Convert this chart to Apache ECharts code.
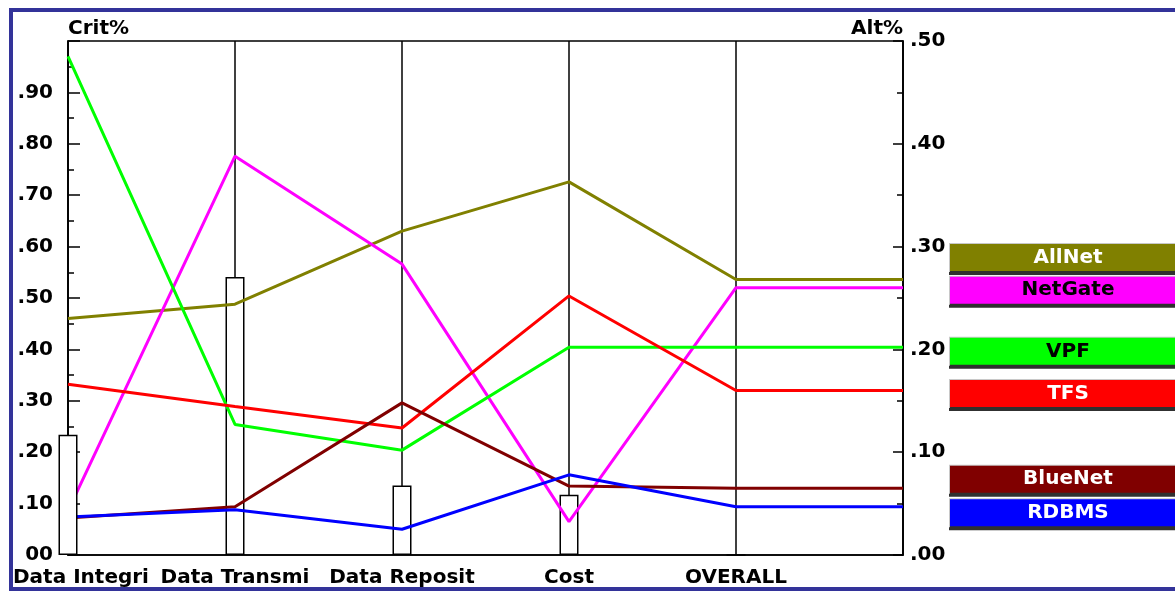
<!DOCTYPE html>
<html>
<head>
<meta charset="utf-8">
<script src="https://cdn.jsdelivr.net/npm/echarts@6/dist/echarts.min.js"></script>
<style>
  html, body { margin: 0; padding: 0; background: #ffffff; overflow: hidden; }
  #frame { position: absolute; left: 9px; top: 8px; width: 1300px; height: 575px;
           border-left: 4px solid #333399; border-top: 4px solid #333399; border-bottom: 4px solid #333399; }
  #chart { position: absolute; left: 0; top: 0; width: 1175px; height: 592px; }
</style>
</head>
<body>
<div id="frame"></div>
<div id="chart"></div>
<script>
// ---- data ----
const categories = ['Data Integri', 'Data Transmi', 'Data Reposit', 'Cost', 'OVERALL'];
const critWeights = [0.234, 0.541, 0.135, 0.117, 0];          // Crit% (left axis), hollow bars
const seriesNames = ['AllNet', 'NetGate', 'VPF', 'TFS', 'BlueNet', 'RDBMS'];
const allNet  = [0.230, 0.244, 0.315, 0.363, 0.268];            // Alt% (right axis)
const netGate = [0.043, 0.388, 0.283, 0.0325, 0.260];
const vpf     = [0.485, 0.127, 0.102, 0.202, 0.202];
const tfs     = [0.166, 0.1445, 0.1235, 0.252, 0.160];
const blueNet = [0.036, 0.047, 0.148, 0.067, 0.065];
const rdbms   = [0.037, 0.044, 0.025, 0.078, 0.047];
const leftTicks  = { min: 0, max: 1.0, interval: 0.1 };
const rightTicks = { min: 0, max: 0.5, interval: 0.1 };

// ---- styles ----
const FONT = 'DejaVu Sans';
const lineColors = ['#808000', '#ff00ff', '#00ff00', '#ff0000', '#800000', '#0000ff'];
const labelTextColors = ['#ffffff', '#000000', '#000000', '#ffffff', '#ffffff', '#ffffff'];
const labelOffsets = [-22, 2.5, 4, 3, -9, 6];
const seriesValues = [allNet, netGate, vpf, tfs, blueNet, rdbms];

// extra empty slot at the right edge: lines continue flat from OVERALL to the Alt% axis
const xData = categories.map((c, i) => i === 0
  ? { value: c, textStyle: { padding: [0, 0, 0, 26] } }
  : { value: c });
xData.push({ value: '' });

const lineSeries = seriesNames.map((name, k) => {
  const vals = seriesValues[k].concat([seriesValues[k][seriesValues[k].length - 1]]);
  return {
    name: name,
    type: 'line',
    yAxisIndex: 1,
    data: vals,
    showSymbol: false,
    symbol: 'none',
    z: 2,
    lineStyle: { color: lineColors[k], width: 3 },
    itemStyle: { color: lineColors[k] },
    emphasis: { disabled: true },
    endLabel: {
      show: true,
      formatter: name,
      align: 'center',
      verticalAlign: 'middle',
      distance: 165,
      offset: [0, labelOffsets[k]],
      width: 236,
      height: 27,
      lineHeight: 27,
      backgroundColor: lineColors[k],
      borderColor: '#c8c8c8',
      borderWidth: 1,
      shadowColor: '#303030',
      shadowOffsetY: 3,
      shadowBlur: 0,
      color: labelTextColors[k],
      fontFamily: FONT,
      fontWeight: 'bold',
      fontSize: 20
    }
  };
});

const barStyle = { color: '#ffffff', borderColor: '#000000', borderWidth: 1.5 };
const firstBar = critWeights.map((v, i) => i === 0 ? v : null).concat([null]);
const otherBars = critWeights.map((v, i) => i === 0 ? null : v).concat([null]);

const fmtLeft = v => {
  const r = Math.round(v * 100);
  if (r === 100) return '';
  if (r === 0) return '00';
  return '.' + String(r).padStart(2, '0');
};
const fmtRight = v => '.' + String(Math.round(v * 100)).padStart(2, '0');

const axisText = { color: '#000', fontFamily: FONT, fontWeight: 'bold', fontSize: 20 };

const option = {
  animation: false,
  backgroundColor: 'transparent',
  grid: { left: 68, right: 272, top: 41, bottom: 37, show: true, borderColor: '#000', borderWidth: 1.5, backgroundColor: 'transparent' },
  xAxis: {
    type: 'category',
    boundaryGap: false,
    data: xData,
    axisLine: { show: true, lineStyle: { color: '#000', width: 1.5 } },
    axisTick: { show: false },
    splitLine: { show: true, lineStyle: { color: '#000', width: 1.5 } },
    axisLabel: Object.assign({ margin: 13, interval: 0 }, axisText)
  },
  yAxis: [
    {
      type: 'value', position: 'left',
      min: leftTicks.min, max: leftTicks.max, interval: leftTicks.interval,
      name: 'Crit%', nameLocation: 'end', nameGap: 2,
      nameTextStyle: Object.assign({ align: 'left', verticalAlign: 'bottom' }, axisText),
      axisLine: { show: true, lineStyle: { color: '#000', width: 1.5 } },
      axisTick: { show: true, inside: true, length: 12, lineStyle: { color: '#000', width: 1.5 } },
      minorTick: { show: true, splitNumber: 2, length: 6, lineStyle: { color: '#000', width: 1.5 } },
      splitLine: { show: false },
      axisLabel: Object.assign({ margin: 15, formatter: fmtLeft }, axisText)
    },
    {
      type: 'value', position: 'right',
      min: rightTicks.min, max: rightTicks.max, interval: rightTicks.interval,
      name: 'Alt%', nameLocation: 'end', nameGap: 2,
      nameTextStyle: Object.assign({ align: 'right', verticalAlign: 'bottom' }, axisText),
      axisLine: { show: true, lineStyle: { color: '#000', width: 1.5 } },
      axisTick: { show: true, inside: true, length: 10, lineStyle: { color: '#000', width: 1.5 } },
      minorTick: { show: true, splitNumber: 2, length: 6, lineStyle: { color: '#000', width: 1.5 } },
      splitLine: { show: false },
      axisLabel: Object.assign({ margin: 7, formatter: fmtRight }, axisText)
    }
  ],
  series: [
    { name: 'crit0', type: 'bar', yAxisIndex: 0, data: firstBar, barWidth: 19, barGap: '-100%',
      clip: false, z: 3, itemStyle: barStyle, emphasis: { disabled: true } },
    { name: 'crit', type: 'bar', yAxisIndex: 0, data: otherBars, barWidth: 19, barGap: '-100%',
      clip: false, z: 1, itemStyle: barStyle, emphasis: { disabled: true } }
  ].concat(lineSeries)
};

const chart = echarts.init(document.getElementById('chart'), null, { renderer: 'canvas' });
chart.setOption(option);
</script>
</body>
</html>
